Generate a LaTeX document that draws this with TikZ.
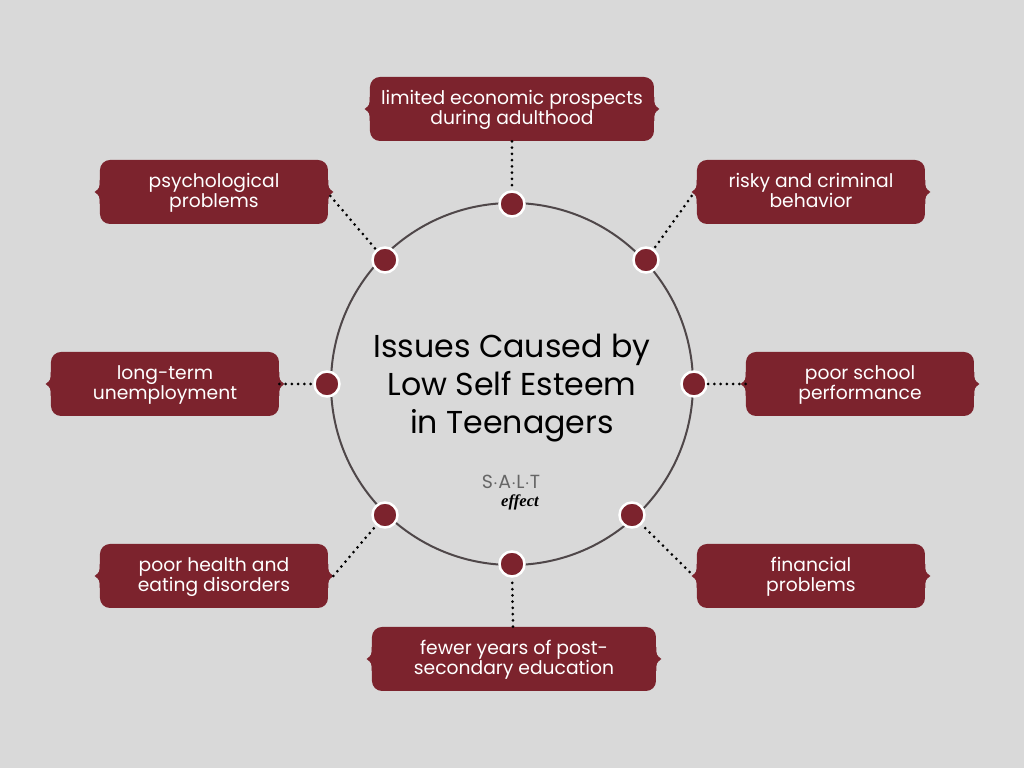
\documentclass[tikz,border=0pt]{standalone}
\usepackage{fontspec}
\setmainfont{Poppins}
\newfontfamily\effectfont{Liberation Serif}
\usepackage{xcolor}
\usepackage{tikz}
\usetikzlibrary{shapes,positioning}

\definecolor{saltbg}{HTML}{D9D9D9}
\definecolor{saltred}{HTML}{7C232D}
\definecolor{saltring}{HTML}{4F4749}
\newcommand{\twolines}[2]{\rule{0pt}{10.8pt}#1\\#2\rule[-4pt]{0pt}{4pt}}

\begin{document}
\begin{tikzpicture}[node distance=5.5cm]

\tikzstyle{ring} = [circle, minimum size=7.24cm, draw=saltring, line width=0.04cm]
\tikzstyle{marker} = [circle, minimum size=0.5cm, inner sep=0pt, fill=saltred, draw=white, line width=0.05cm]
\tikzstyle{link} = [line width=0.06cm, line cap=round, dash pattern=on 0cm off 0.125cm, black]
\tikzstyle{issue} = [rectangle, rounded corners=0.2cm, minimum width=4.56cm, minimum height=1.28cm, inner sep=0pt, align=center, text=white, fill=saltred, font=\fontsize{10.65}{11.4}\selectfont,
  append after command={\pgfextra{\fill[saltred, sharp corners]
    ([yshift=0.24cm]\tikzlastnode.west) .. controls ([yshift=0.08cm]\tikzlastnode.west) .. ([xshift=-0.1cm]\tikzlastnode.west) .. controls ([yshift=-0.08cm]\tikzlastnode.west) .. ([yshift=-0.24cm]\tikzlastnode.west) -- ([xshift=0.1cm]\tikzlastnode.west) -- cycle
    ([yshift=0.24cm]\tikzlastnode.east) .. controls ([yshift=0.08cm]\tikzlastnode.east) .. ([xshift=0.1cm]\tikzlastnode.east) .. controls ([yshift=-0.08cm]\tikzlastnode.east) .. ([yshift=-0.24cm]\tikzlastnode.east) -- ([xshift=-0.1cm]\tikzlastnode.east) -- cycle;}}]
\tikzstyle{widebox} = [minimum width=5.68cm]

\useasboundingbox [fill=saltbg] (-10.24,-7.68) rectangle (10.24,7.68);

\node (ring) [ring] at (0,0) {};
\node (title) [font=\fontsize{18}{21.6}\selectfont, align=center, black] at (0,-0.08) {Issues Caused by\\Low Self Esteem\\in Teenagers};
\node (salt) [font=\fontsize{10.8}{10}\selectfont, text=black!60] at (-0.02,-1.96) {S$\cdot$A$\cdot$L$\cdot$T};
\node (effect) [font=\effectfont\bfseries\itshape\fontsize{9.5}{10}\selectfont] at (0.16,-2.36) {effect};

\node (limited) [issue, widebox, above of=ring] {\twolines{limited economic prospects}{during adulthood}};
\node (fewer) [issue, widebox, below of=ring, xshift=0.04cm] {\twolines{fewer years of post-}{secondary education}};
\node (longterm) [issue, left of=ring, xshift=-1.44cm] {\twolines{long-term}{unemployment}};
\node (school) [issue, right of=ring, xshift=1.46cm] {\twolines{poor school}{performance}};
\node (psych) [issue, above of=longterm, xshift=0.98cm, yshift=-1.66cm] {\twolines{psychological}{problems}};
\node (health) [issue, below of=longterm, xshift=0.98cm, yshift=1.66cm] {\twolines{poor health and}{eating disorders}};
\node (risky) [issue, above of=school, xshift=-0.98cm, yshift=-1.66cm] {\twolines{risky and criminal}{behavior}};
\node (financial) [issue, below of=school, xshift=-0.98cm, yshift=1.66cm] {\twolines{financial}{problems}};

\node (dottop) [marker] at (0,3.6) {};
\node (dotright) [marker] at (3.64,0) {};
\node (dotleft) [marker] at (-3.7,0) {};
\node (dotbottom) [marker] at (0,-3.6) {};
\node (dotnw) [marker] at (-2.54,2.48) {};
\node (dotne) [marker] at (2.68,2.48) {};
\node (dotsw) [marker] at (-2.54,-2.62) {};
\node (dotse) [marker] at (2.4,-2.62) {};

\draw [link] (limited) -- (dottop);
\draw [link] ([xshift=-0.02cm]fewer.north) -- (dotbottom);
\draw [link] (longterm) -- (dotleft);
\draw [link] (school) -- (dotright);
\draw [link] ([xshift=0.04cm,yshift=-0.08cm]psych.east) -- (dotnw);
\draw [link] ([xshift=-0.1cm,yshift=-0.08cm]risky.west) -- (dotne);
\draw [link] ([xshift=0.1cm]health.east) -- (dotsw);
\draw [link] ([xshift=-0.14cm,yshift=0.08cm]financial.west) -- (dotse);

\end{tikzpicture}
\end{document}
